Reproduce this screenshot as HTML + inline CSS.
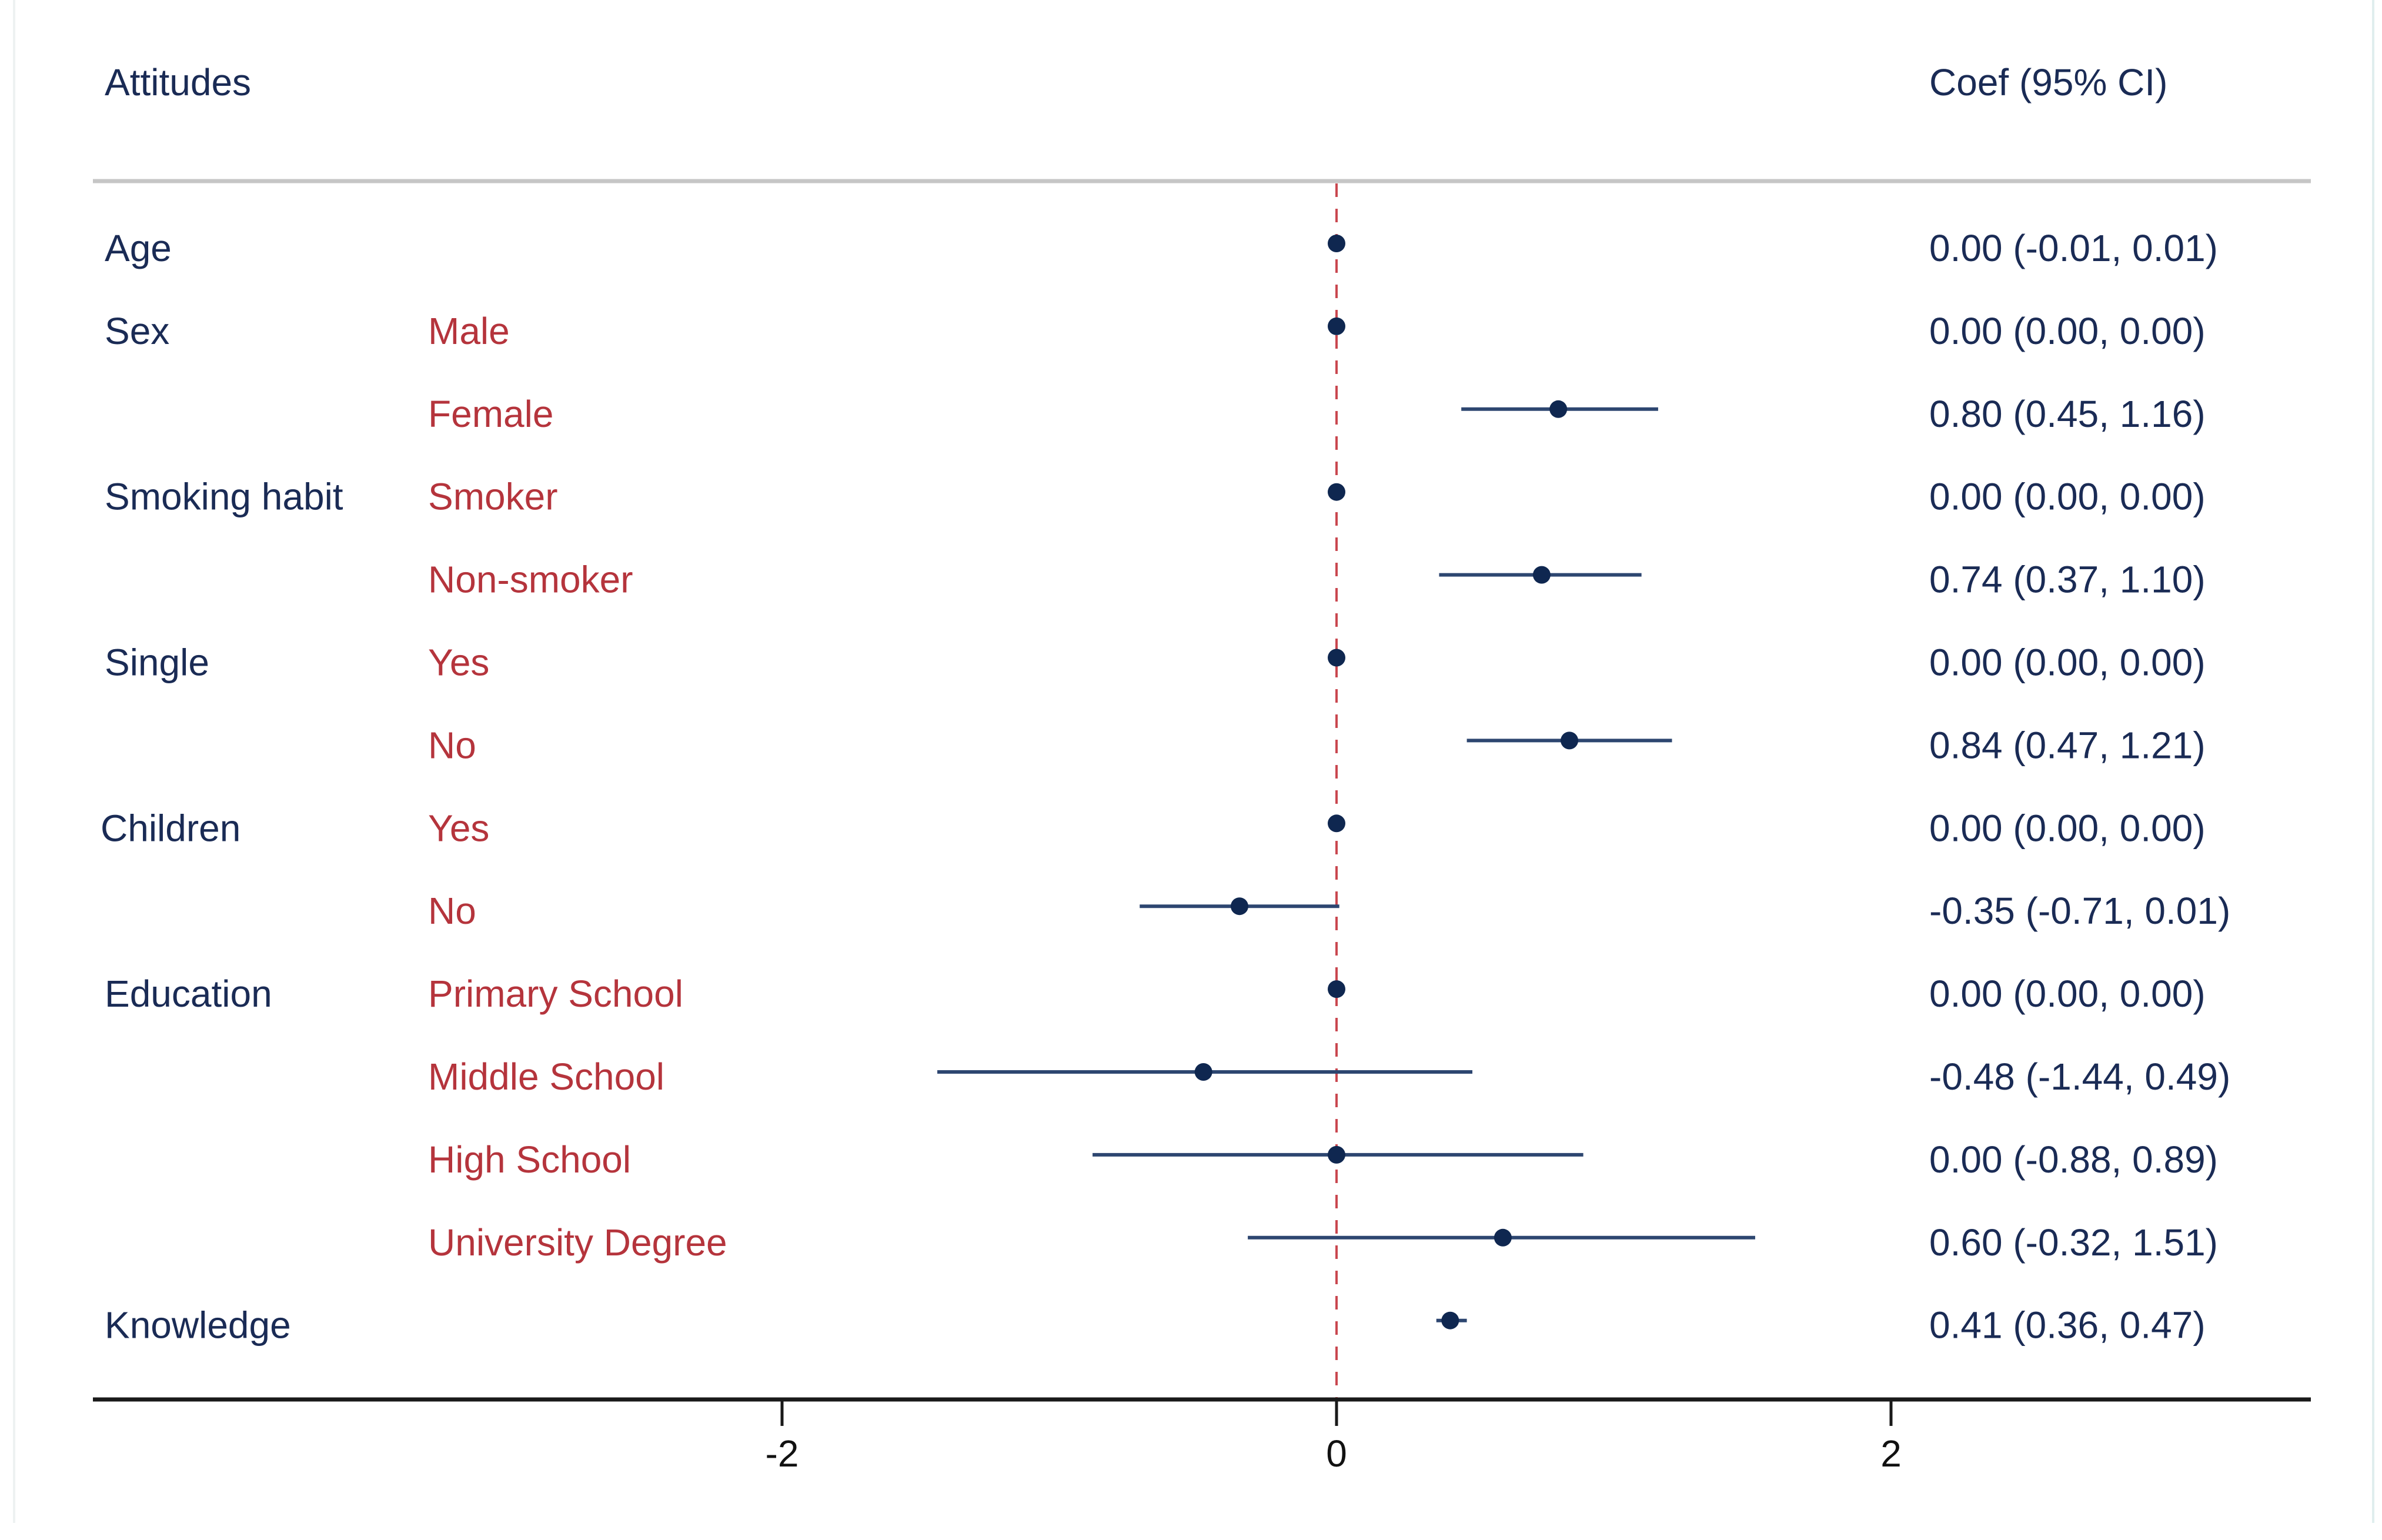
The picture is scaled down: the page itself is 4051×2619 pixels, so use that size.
<!DOCTYPE html>
<html><head><meta charset="utf-8">
<style>
html,body{margin:0;padding:0;background:#fff;}
svg{display:block;}
text{font-family:"Liberation Sans",Arial,sans-serif;font-size:64px;}
</style></head>
<body>
<svg id="chart" width="4051" height="2619" viewBox="0 0 4051 2619" xmlns="http://www.w3.org/2000/svg">
<rect x="0" y="0" width="4051" height="2619" fill="#fff"/>
<line x1="24" y1="0" x2="24" y2="2590" stroke="#eef2f2" stroke-width="4"/>
<line x1="4036" y1="0" x2="4036" y2="2590" stroke="#e0eeee" stroke-width="4"/>
<text x="178" y="162" fill="#1a2b55">Attitudes</text>
<text x="3281" y="162" fill="#1a2b55">Coef (95% CI)</text>
<line x1="158" y1="308" x2="3930" y2="308" stroke="#c6c6c6" stroke-width="7"/>
<g id="rows"></g>
<g id="marks"></g>
<line x1="158" y1="2380" x2="3930" y2="2380" stroke="#1a1a1a" stroke-width="7"/>
<g id="ticks"></g>
</svg>
<script>
const groups = ["Age","Sex","","Smoking habit","","Single","","Children","","Education","","","","Knowledge"];
const levels = ["","Male","Female","Smoker","Non-smoker","Yes","No","Yes","No","Primary School","Middle School","High School","University Degree",""];
const coef = [0.00,0.00,0.80,0.00,0.74,0.00,0.84,0.00,-0.35,0.00,-0.48,0.00,0.60,0.41];
const lower = [-0.01,0.00,0.45,0.00,0.37,0.00,0.47,0.00,-0.71,0.00,-1.44,-0.88,-0.32,0.36];
const upper = [0.01,0.00,1.16,0.00,1.10,0.00,1.21,0.00,0.01,0.00,0.49,0.89,1.51,0.47];
const labels = ["0.00 (-0.01, 0.01)","0.00 (0.00, 0.00)","0.80 (0.45, 1.16)","0.00 (0.00, 0.00)","0.74 (0.37, 1.10)","0.00 (0.00, 0.00)","0.84 (0.47, 1.21)","0.00 (0.00, 0.00)","-0.35 (-0.71, 0.01)","0.00 (0.00, 0.00)","-0.48 (-1.44, 0.49)","0.00 (-0.88, 0.89)","0.60 (-0.32, 1.51)","0.41 (0.36, 0.47)"];
const tickValues = [-2,0,2];
const tickLabels = ["-2","0","2"];

const NS="http://www.w3.org/2000/svg";
function xs(v){return 2273 + v*471.5;}
function ys(i){return 414 + i*140.9;}
function mk(tag,attrs,parent){const e=document.createElementNS(NS,tag);for(const k in attrs)e.setAttribute(k,attrs[k]);parent.appendChild(e);return e;}
const rows=document.getElementById('rows');
const marks=document.getElementById('marks');
const ticks=document.getElementById('ticks');

const ref=mk('line',{x1:xs(0),y1:312,x2:xs(0),y2:2378,stroke:'#c9474f','stroke-width':4,'stroke-dasharray':'23 20'},marks);



for(let i=0;i<coef.length;i++){
  const y=ys(i);
  if(groups[i]){
    const t=mk('text',{x:(groups[i]==="Children"?171:178),y:y+30,fill:'#1a2b55'},rows);
    t.textContent=groups[i];
    
    
  }
  if(levels[i]){
    const t=mk('text',{x:728,y:y+30,fill:'#b5343c'},rows);
    t.textContent=levels[i];
    
    
  }
  const c=mk('text',{x:3281,y:y+30,fill:'#1a2b55'},rows);
  c.textContent=labels[i];
  
  
  const l=mk('line',{x1:xs(lower[i]),y1:y,x2:xs(upper[i]),y2:y,stroke:'#2d4670','stroke-width':6},marks);
  
  
  const d=mk('ellipse',{cx:xs(coef[i]),cy:y,rx:15,ry:15,fill:'#0f2750'},marks);
  
  
}
for(let j=0;j<tickValues.length;j++){
  const x=xs(tickValues[j]);
  const tl=mk('line',{x1:x,y1:2380,x2:x,y2:2425,stroke:'#1a1a1a','stroke-width':5},ticks);
  
  
  const tt=mk('text',{x:x,y:2494,fill:'#111','text-anchor':'middle'},ticks);
  tt.textContent=tickLabels[j];
  
  
}
</script>
</body></html>
